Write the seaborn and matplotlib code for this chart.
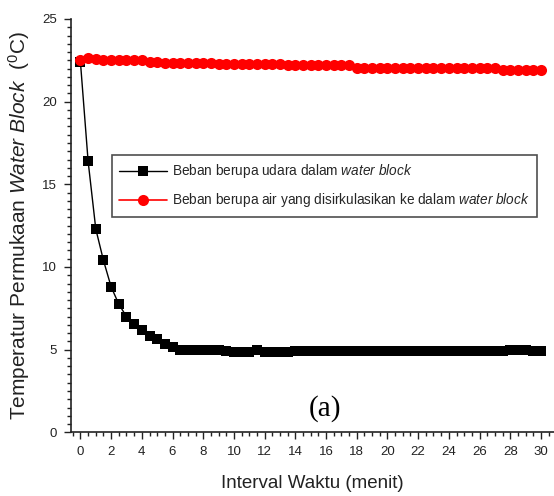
import numpy as np
import pandas as pd
import matplotlib
matplotlib.use('Agg')
import matplotlib.pyplot as plt
from matplotlib.ticker import MultipleLocator
import seaborn as sns

# time axis (menit), one reading every half minute
waktu = [0.0, 0.5, 1.0, 1.5, 2.0, 2.5, 3.0, 3.5, 4.0, 4.5,
         5.0, 5.5, 6.0, 6.5, 7.0, 7.5, 8.0, 8.5, 9.0, 9.5,
         10.0, 10.5, 11.0, 11.5, 12.0, 12.5, 13.0, 13.5, 14.0, 14.5,
         15.0, 15.5, 16.0, 16.5, 17.0, 17.5, 18.0, 18.5, 19.0, 19.5,
         20.0, 20.5, 21.0, 21.5, 22.0, 22.5, 23.0, 23.5, 24.0, 24.5,
         25.0, 25.5, 26.0, 26.5, 27.0, 27.5, 28.0, 28.5, 29.0, 29.5,
         30.0]

# beban udara (black squares)
suhu_udara = [22.4, 16.4, 12.3, 10.4, 8.8, 7.75, 7.0, 6.55, 6.2, 5.85,
              5.65, 5.35, 5.15, 5.0, 4.95, 4.95, 4.95, 4.95, 4.95, 4.9,
              4.85, 4.85, 4.85, 4.95, 4.85, 4.85, 4.85, 4.85, 4.9, 4.9,
              4.9, 4.9, 4.9, 4.9, 4.9, 4.9, 4.9, 4.9, 4.9, 4.9,
              4.9, 4.9, 4.9, 4.9, 4.9, 4.9, 4.9, 4.9, 4.9, 4.9,
              4.9, 4.9, 4.9, 4.9, 4.9, 4.9, 5.0, 5.0, 5.0, 4.9,
              4.9]

# beban air disirkulasikan (red circles)
suhu_air = [22.55, 22.65, 22.6, 22.55, 22.55, 22.5, 22.55, 22.5, 22.5, 22.4,
            22.4, 22.35, 22.35, 22.35, 22.35, 22.35, 22.35, 22.35, 22.25, 22.25,
            22.25, 22.25, 22.25, 22.25, 22.25, 22.25, 22.25, 22.2, 22.2, 22.2,
            22.2, 22.2, 22.2, 22.2, 22.2, 22.2, 22.05, 22.05, 22.05, 22.05,
            22.05, 22.05, 22.05, 22.05, 22.05, 22.05, 22.05, 22.05, 22.05, 22.05,
            22.05, 22.05, 22.05, 22.05, 22.05, 21.9, 21.9, 21.9, 21.9, 21.9,
            21.9]

label_udara = 'Beban berupa udara dalam $\\it{water\\ block}$'
label_air = 'Beban berupa air yang disirkulasikan ke dalam $\\it{water\\ block}$'


def main():
    sns.set_style('ticks')
    plt.rcParams['font.family'] = ['Liberation Sans', 'DejaVu Sans']
    plt.rcParams['mathtext.fontset'] = 'custom'
    plt.rcParams['mathtext.rm'] = 'Liberation Sans'
    plt.rcParams['mathtext.it'] = 'Liberation Sans:italic'

    df = pd.DataFrame({'waktu': waktu, 'udara': suhu_udara, 'air': suhu_air})

    fig = plt.figure(figsize=(5.54, 4.96), dpi=100)
    ax = fig.add_axes([0.128, 0.1284, 0.872, 0.8333])

    sns.lineplot(data=df, x='waktu', y='udara', ax=ax, color='black',
                 marker='s', markersize=6.5, markeredgewidth=0,
                 linewidth=1, label=label_udara)
    sns.lineplot(data=df, x='waktu', y='air', ax=ax, color='#ff0000',
                 marker='o', markersize=8, markeredgewidth=0,
                 linewidth=1.2, label=label_air)

    ax.set_xlim(-0.62, 30.85)
    ax.set_ylim(0, 25)
    ax.xaxis.set_major_locator(MultipleLocator(2))
    ax.xaxis.set_minor_locator(MultipleLocator(0.5))
    ax.yaxis.set_major_locator(MultipleLocator(5))
    ax.yaxis.set_minor_locator(MultipleLocator(0.5))
    ax.tick_params(which='major', length=5, width=1, labelsize=9.5,
                   colors='#222222', direction='out', pad=5)
    ax.tick_params(which='minor', length=3, width=1, direction='out',
                   colors='#222222')

    for s in ['top', 'right']:
        ax.spines[s].set_visible(False)
    for s in ['left', 'bottom']:
        ax.spines[s].set_linewidth(1.2)
        ax.spines[s].set_color('#222222')

    ax.set_xlabel('Interval Waktu (menit)', fontsize=13.5, color='#222222',
                  labelpad=12)
    ax.set_ylabel('Temperatur Permukaan $\\it{Water\\ Block}$  ($^0$C)',
                  fontsize=15, color='#222222', labelpad=7)

    leg = ax.legend(loc='upper left', bbox_to_anchor=(0.085, 0.671),
                    borderaxespad=0, fontsize=9.8, frameon=True,
                    fancybox=False, handlelength=3.5, handletextpad=0.35,
                    borderpad=0.55, labelspacing=0.8,
                    edgecolor='#222222')
    leg.get_frame().set_linewidth(1.2)

    ax.text(15.9, 1.45, '(a)', fontsize=21, family='Liberation Serif',
            ha='center', va='center', color='black')

    fig.savefig('out.png', dpi=100)


if __name__ == "__main__":
    main()
